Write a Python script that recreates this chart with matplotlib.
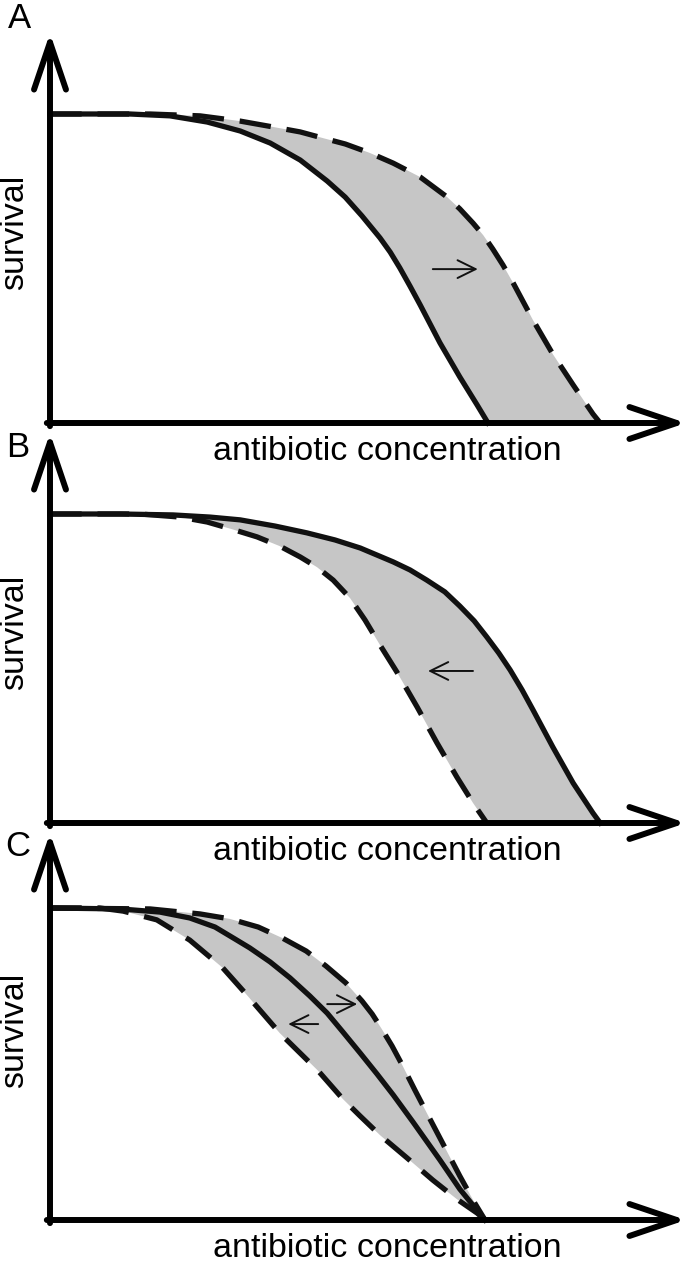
import matplotlib
matplotlib.use("Agg")
import matplotlib.pyplot as plt

# --- valores (concentração em unidades arbitrárias, sobrevivência relativa) ---
conc_a_solid = [0.0, 1.33, 2.0, 2.62, 3.17, 3.67, 4.17, 4.62, 4.92, 5.2, 5.5, 5.67, 5.83, 6.0, 6.17, 6.5, 6.83, 7.12, 7.3]
surv_a_solid = [1.0, 1.0, 0.994, 0.974, 0.945, 0.906, 0.851, 0.783, 0.731, 0.670, 0.599, 0.553, 0.502, 0.443, 0.382, 0.259, 0.149, 0.058, 0.0]
conc_a_dashed = [0.0, 1.67, 2.5, 3.17, 3.72, 4.17, 4.55, 4.92, 5.33, 5.72, 6.17, 6.62, 6.83, 7.05, 7.22, 7.38, 7.55, 7.72, 8.05, 8.38, 8.72, 9.05, 9.17]
surv_a_dashed = [1.0, 1.0, 0.994, 0.977, 0.958, 0.942, 0.922, 0.903, 0.874, 0.841, 0.796, 0.731, 0.693, 0.647, 0.608, 0.563, 0.511, 0.453, 0.333, 0.223, 0.123, 0.029, 0.0]

conc_b_solid = [0.0, 1.17, 2.05, 2.67, 3.17, 3.75, 4.28, 4.75, 5.17, 5.72, 6.0, 6.28, 6.58, 6.83, 7.07, 7.28, 7.48, 7.67, 7.87, 8.05, 8.38, 8.72, 9.05, 9.17]
surv_b_solid = [1.0, 1.0, 0.997, 0.990, 0.981, 0.961, 0.939, 0.916, 0.890, 0.845, 0.819, 0.786, 0.748, 0.702, 0.654, 0.602, 0.550, 0.495, 0.430, 0.366, 0.246, 0.129, 0.032, 0.0]
conc_b_dashed = [0.0, 1.5, 2.17, 2.62, 3.03, 3.45, 3.83, 4.17, 4.45, 4.72, 5.0, 5.25, 5.5, 5.78, 6.12, 6.45, 6.78, 7.05, 7.28]
surv_b_dashed = [1.0, 1.0, 0.990, 0.974, 0.951, 0.926, 0.896, 0.861, 0.828, 0.786, 0.728, 0.657, 0.576, 0.489, 0.375, 0.259, 0.149, 0.065, 0.0]

conc_c_solid = [0.0, 1.17, 1.83, 2.33, 2.75, 3.08, 3.33, 3.67, 4.0, 4.33, 4.62, 4.88, 5.17, 5.45, 5.72, 6.05, 6.5, 6.83, 7.25]
surv_c_solid = [1.0, 0.997, 0.987, 0.968, 0.939, 0.901, 0.872, 0.827, 0.776, 0.718, 0.663, 0.603, 0.535, 0.468, 0.401, 0.314, 0.192, 0.099, 0.0]
conc_c_upper = [0.0, 1.67, 2.5, 3.0, 3.47, 3.87, 4.27, 4.6, 4.93, 5.2, 5.37, 5.53, 5.7, 5.87, 6.08, 6.28, 6.55, 6.83, 7.08, 7.25]
surv_c_upper = [1.0, 0.997, 0.981, 0.965, 0.939, 0.904, 0.862, 0.814, 0.760, 0.702, 0.660, 0.612, 0.558, 0.497, 0.417, 0.343, 0.244, 0.141, 0.054, 0.0]
conc_c_lower = [0.0, 0.83, 1.22, 1.78, 2.33, 2.88, 3.25, 3.83, 4.47, 4.88, 5.17, 5.5, 5.95, 6.38, 6.78, 7.12, 7.25]
surv_c_lower = [1.0, 1.0, 0.990, 0.962, 0.897, 0.808, 0.728, 0.599, 0.478, 0.388, 0.333, 0.272, 0.199, 0.128, 0.067, 0.022, 0.0]

# setas de deslocamento: (conc inicial, conc final, sobrevivência)
setas_a = [(6.38, 7.13, 0.498)]
setas_b = [(7.05, 6.30, 0.492)]
setas_c = [(4.62, 5.12, 0.692), (4.47, 3.97, 0.628)]

letras = ['A', 'B', 'C']
rotulo_x = 'antibiotic concentration'
rotulo_y = 'survival'

plt.rcParams['font.family'] = ['Liberation Sans', 'DejaVu Sans']

W, H = 689, 1267
CINZA = '#c6c6c6'
PRETO = '#111111'
LW_EIXO = 4.3
LW_CURVA = 3.8
TRACO = (0, (6, 3))


def criar_painel(fig, base_px, topo_px, plato_px):
    # eixo posicionado em pixels: origem em x=50, ponta da seta em x=686
    esq, dir_ = 50, 686
    ax = fig.add_axes([esq / W, 1 - base_px / H, (dir_ - esq) / W, (base_px - topo_px) / H])
    px_por_conc = 60.0
    px_por_surv = base_px - plato_px
    ax.set_xlim(0, (dir_ - esq) / px_por_conc)
    ax.set_ylim(0, (base_px - topo_px) / px_por_surv)
    ax.axis('off')

    seta = dict(arrowstyle='->,head_length=3.4,head_width=1.15', lw=LW_EIXO, color='black',
                shrinkA=0, shrinkB=0, mutation_scale=10)
    ax.annotate('', xy=(1, 0), xytext=(-0.005, 0), xycoords='axes fraction',
                arrowprops=seta, zorder=5, annotation_clip=False)
    ax.annotate('', xy=(0, 1), xytext=(0, -0.008), xycoords='axes fraction',
                arrowprops=seta, zorder=5, annotation_clip=False)

    ax.text(0.53, -0.074, rotulo_x, transform=ax.transAxes, ha='center', va='center', fontsize=24.5)
    ax.text(-0.055, 0.49, rotulo_y, transform=ax.transAxes, ha='center', va='center',
            rotation=90, fontsize=24.5)
    return ax


def preencher(ax, x_sup, y_sup, x_inf, y_inf):
    xs = list(x_sup) + list(x_inf)[::-1]
    ys = list(y_sup) + list(y_inf)[::-1]
    ax.fill(xs, ys, color=CINZA, lw=0, zorder=1)


def curva(ax, x, y, tracejada=False):
    estilo = TRACO if tracejada else '-'
    ax.plot(x, y, color=PRETO, lw=LW_CURVA, ls=estilo, zorder=3, clip_on=False,
            solid_joinstyle='round', dash_joinstyle='round')


def desenhar_setas(ax, setas):
    for x0, x1, y in setas:
        ax.annotate('', xy=(x1, y), xytext=(x0, y),
                    arrowprops=dict(arrowstyle='->,head_length=0.65,head_width=0.32', lw=1.4,
                                    color=PRETO, shrinkA=0, shrinkB=0, mutation_scale=20),
                    zorder=4)


def main():
    fig = plt.figure(figsize=(W / 100, H / 100), dpi=100)

    # painel A
    ax = criar_painel(fig, 423, 33, 114)
    preencher(ax, conc_a_dashed, surv_a_dashed, conc_a_solid, surv_a_solid)
    curva(ax, conc_a_solid, surv_a_solid)
    curva(ax, conc_a_dashed, surv_a_dashed, tracejada=True)
    desenhar_setas(ax, setas_a)

    # painel B
    ax = criar_painel(fig, 823, 433, 514)
    preencher(ax, conc_b_solid, surv_b_solid, conc_b_dashed, surv_b_dashed)
    curva(ax, conc_b_solid, surv_b_solid)
    curva(ax, conc_b_dashed, surv_b_dashed, tracejada=True)
    desenhar_setas(ax, setas_b)

    # painel C
    ax = criar_painel(fig, 1220, 833, 908)
    preencher(ax, conc_c_upper, surv_c_upper, conc_c_lower, surv_c_lower)
    curva(ax, conc_c_solid, surv_c_solid)
    curva(ax, conc_c_upper, surv_c_upper, tracejada=True)
    curva(ax, conc_c_lower, surv_c_lower, tracejada=True)
    desenhar_setas(ax, setas_c)

    # letras dos painéis
    for letra, (px, py) in zip(letras, [(20, 18), (18, 447), (18, 846)]):
        fig.text(px / W, 1 - py / H, letra, ha='center', va='center', fontsize=25)

    fig.savefig('out.png', dpi=100)


if __name__ == '__main__':
    main()
